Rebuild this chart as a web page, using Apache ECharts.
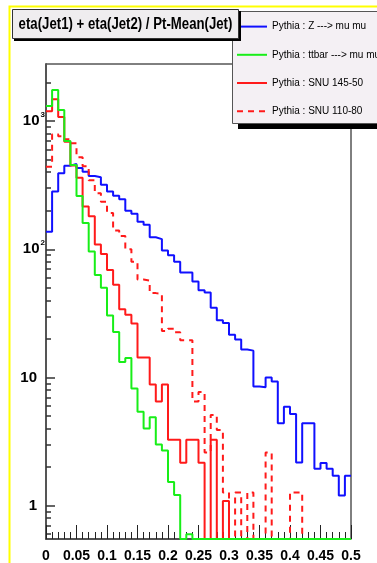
<!DOCTYPE html>
<html>
<head>
<meta charset="utf-8">
<title>eta(Jet1) + eta(Jet2) / Pt-Mean(Jet)</title>
<script src="https://cdn.jsdelivr.net/npm/echarts@6.0.0/dist/echarts.min.js"></script>
<style>
  html, body { margin: 0; padding: 0; background: #ffffff; }
  #chart { width: 377px; height: 563px; }
</style>
</head>
<body>
<div id="chart"></div>
<script>
// Histogram binning: 50 bins of width 0.01 between 0 and 0.5
const X_MIN = 0;
const X_MAX = 0.5;
const BIN_WIDTH = 0.01;

// Log y range of the frame
const Y_MIN = 0.55;
const Y_MAX = 2786;

// Bin contents (entries per bin), one array per sample
const zMuMu = [137, 282, 392, 449, 463, 430, 403, 373, 365, 318,
               282, 262, 246, 200, 189, 164, 155, 124, 120, 98,
               90, 80, 66, 66, 56, 48, 46, 35, 28, 26.6,
               21.5, 19.8, 16.5, 16.2, 8.5, 8.4, 10.0, 9.3, 4.4, 5.9,
               5.2, 2.17, 4.4, 4.4, 1.94, 2.15, 1.94, 1.71, 1.2, 1.71];

const ttbarMuMu = [1310, 1750, 1220, 700, 455, 260, 160, 96, 63, 50,
                   30.4, 22.6, 13.2, 14.2, 8.2, 5.4, 4.0, 4.9, 3.0, 2.7,
                   1.53, 1.21, 0, 0.6, 0, 0, 0, 0, 0, 0,
                   0, 0, 0, 0, 0, 0, 0, 0, 0, 0,
                   0, 0, 0, 0, 0, 0, 0, 0, 0, 0];

const snu145 = [1190, 1480, 1075, 690, 450, 362, 216, 181, 109, 92,
                69, 53, 34.1, 30.8, 26.4, 14.3, 14.3, 8.8, 6.5, 8.8,
                3.27, 3.27, 2.16, 3.27, 3.27, 2.16, 0, 3.27, 0, 1.09,
                0, 0, 0, 0, 0, 0, 0, 0, 0, 0,
                0, 0, 0, 0, 0, 0, 0, 0, 0, 0];

const snu110 = [441, 790, 760, 720, 671, 522, 445, 345, 274, 235,
                192, 140, 127, 100, 80, 58, 57, 45.5, 45, 23,
                24, 22.5, 19.5, 19.5, 6.5, 7.7, 2.6, 5.1, 3.9, 1.27,
                0, 1.27, 0, 1.27, 0, 0, 2.6, 0, 0, 0,
                1.27, 1.27, 0, 0, 0, 0, 0, 0, 0, 0];

const seriesNames = [
  'Pythia : Z ---> mu mu',
  'Pythia : ttbar ---> mu mu',
  'Pythia : SNU 145-50',
  'Pythia : SNU 110-80'
];

const titleText = 'eta(Jet1) + eta(Jet2) / Pt-Mean(Jet)';

// Axis ticks and labels
const xLabelStep = 0.05;
const yLabelValues = [1, 10, 100, 1000];
const yMinorValues = [0.6, 0.7, 0.8, 0.9,
                      2, 3, 4, 5, 6, 7, 8, 9,
                      20, 30, 40, 50, 60, 70, 80, 90,
                      200, 300, 400, 500, 600, 700, 800, 900,
                      2000];

const FONT = '"Liberation Sans", Arial, Helvetica, sans-serif';

// Turn bin contents into an outline: one point per bin low edge plus the
// closing upper edge; empty bins sit on the bottom of the frame.
function histOutline(values) {
  const pts = values.map((v, i) => [+(X_MIN + i * BIN_WIDTH).toFixed(4), v > 0 ? v : Y_MIN]);
  const last = values[values.length - 1];
  pts.push([X_MAX, last > 0 ? last : Y_MIN]);
  return pts;
}

function histSeries(name, values, color, type, z) {
  return {
    name: name,
    type: 'line',
    step: 'end',
    data: histOutline(values),
    symbol: 'none',
    showSymbol: false,
    animation: false,
    z: z,
    lineStyle: { color: color, width: 2, type: type },
    itemStyle: { color: color }
  };
}

const chart = echarts.init(document.getElementById('chart'), null, { renderer: 'canvas' });

const option = {
  backgroundColor: '#ffffff',
  animation: false,
  grid: {
    left: 46, top: 64, width: 305, height: 475,
    show: true, borderColor: '#000000', borderWidth: 1,
    backgroundColor: 'transparent'
  },
  xAxis: {
    type: 'value',
    min: X_MIN, max: X_MAX, interval: xLabelStep,
    axisLine: { show: true, lineStyle: { color: '#444444', width: 1.5 } },
    axisTick: { show: true, inside: true, length: 14, lineStyle: { color: '#222222', width: 1 } },
    minorTick: { show: true, splitNumber: 5, length: 7, lineStyle: { color: '#222222', width: 1 } },
    splitLine: { show: false },
    minorSplitLine: { show: false },
    axisLabel: {
      margin: 10,
      color: '#000000',
      fontSize: 14,
      fontWeight: 'bold',
      fontFamily: FONT,
      formatter: v => String(+v.toFixed(2))
    }
  },
  yAxis: [
    {
      type: 'log', logBase: 10,
      min: Y_MIN, max: Y_MAX,
      axisLine: { show: true, lineStyle: { color: '#555555', width: 2 } },
      axisTick: { show: true, inside: true, length: 9, customValues: yLabelValues,
                  lineStyle: { color: '#333333', width: 1.5 } },
      splitLine: { show: false },
      axisLabel: {
        customValues: yLabelValues,
        margin: 1,
        color: '#000000',
        formatter: v => {
          const e = Math.round(Math.log10(v));
          if (e === 0) return '{p|1}';
          if (e === 1) return '{p|10}';
          return '{b|10}{s|' + e + '}';
        },
        rich: {
          p: { fontSize: 15, fontWeight: 'bold', fontFamily: FONT, color: '#000', padding: [0, 8, 0, 0] },
          b: { fontSize: 15, fontWeight: 'bold', fontFamily: FONT, color: '#000' },
          s: { fontSize: 8, fontWeight: 'bold', fontFamily: FONT, color: '#000', padding: [0, 0, 12, 1] }
        }
      }
    },
    {
      type: 'log', logBase: 10,
      min: Y_MIN, max: Y_MAX,
      position: 'left',
      axisLine: { show: false },
      axisTick: { show: true, inside: true, length: 5, customValues: yMinorValues,
                  lineStyle: { color: '#333333', width: 1.5 } },
      axisLabel: { show: false },
      splitLine: { show: false }
    }
  ],
  legend: {
    orient: 'vertical',
    left: 231, top: 16,
    padding: 5,
    itemWidth: 30, itemHeight: 14, itemGap: 17,
    itemTextGap: 4,
    selectedMode: false,
    z: 20,
    itemStyle: { color: 'transparent', borderWidth: 0, opacity: 0 },
    textStyle: { color: '#000000', fontSize: 10, fontFamily: FONT },
    data: seriesNames
  },
  graphic: [
    // canvas highlight border
    { type: 'polyline', z: 30, silent: true,
      shape: { points: [[9.5, 563], [9.5, 6.5], [377, 6.5]] },
      style: { stroke: '#ffff00', lineWidth: 2, fill: null } },
    // title pave
    { type: 'rect', z: 30, silent: true,
      shape: { x: 14, y: 11, width: 227, height: 30 }, style: { fill: '#000000' } },
    { type: 'rect', z: 31, silent: true,
      shape: { x: 12.5, y: 9.5, width: 226, height: 29 },
      style: { fill: '#efedef', stroke: '#333333', lineWidth: 1 } },
    { type: 'text', z: 32, silent: true,
      x: 125.5, y: 24.5, scaleX: 0.88, scaleY: 1.05,
      style: { x: 0, y: 0, text: titleText,
               font: 'bold 15px ' + FONT, fill: '#000000',
               textAlign: 'center', textVerticalAlign: 'middle',
               align: 'center', verticalAlign: 'middle' } },
    // legend pave
    { type: 'rect', z: 15, silent: true,
      shape: { x: 238, y: 17, width: 160, height: 112 }, style: { fill: '#000000' } },
    { type: 'rect', z: 16, silent: true,
      shape: { x: 232.5, y: 11.5, width: 160, height: 112 },
      style: { fill: '#f4f0f4', stroke: '#555555', lineWidth: 1 } }
  ],
  series: [
    histSeries(seriesNames[0], zMuMu, '#1010ff', 'solid', 3),
    histSeries(seriesNames[1], ttbarMuMu, '#18ee18', 'solid', 5),
    histSeries(seriesNames[2], snu145, '#ff1a1a', 'solid', 4),
    histSeries(seriesNames[3], snu110, '#ff1a1a', [6, 5], 4)
  ]
};

chart.setOption(option);
</script>
</body>
</html>
